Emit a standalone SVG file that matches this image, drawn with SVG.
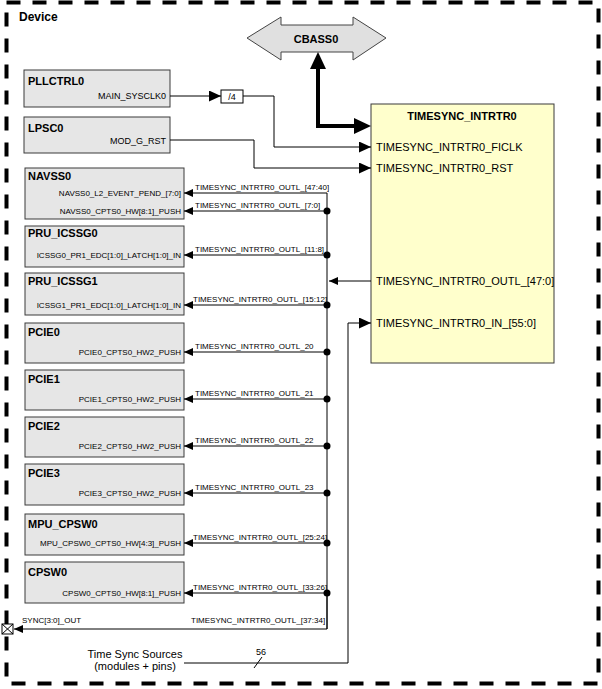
<svg xmlns="http://www.w3.org/2000/svg" width="602" height="689" viewBox="0 0 602 689">
<style>
.box{fill:#e6e6e6;stroke:#3a3a3a;stroke-width:1}
.ts{fill:#ffffcc;stroke:#3a3a3a;stroke-width:1}
.t{font-family:"Liberation Sans",Arial,sans-serif;font-weight:bold;font-size:11px;fill:#000}
.p{font-family:"Liberation Sans",Arial,sans-serif;font-size:8px;fill:#000}
.pm{font-family:"Liberation Sans",Arial,sans-serif;font-size:9px;fill:#000}
.pl{font-family:"Liberation Sans",Arial,sans-serif;font-size:11px;fill:#000}
.w{fill:none;stroke:#000;stroke-width:1}
.wa{fill:none;stroke:#000;stroke-width:1;marker-end:url(#a)}
.wb{fill:none;stroke:#000;stroke-width:1;marker-end:url(#b)}
</style>
<defs>
<marker id="a" markerUnits="userSpaceOnUse" markerWidth="10" markerHeight="9" refX="9" refY="4" orient="auto"><path d="M0,0 L9,4 L0,8 z" fill="#000"/></marker>
<marker id="b" markerUnits="userSpaceOnUse" markerWidth="13" markerHeight="12" refX="12" refY="5.5" orient="auto"><path d="M0,0 L12,5.5 L0,11 z" fill="#000"/></marker>
<marker id="at" markerUnits="userSpaceOnUse" markerWidth="18" markerHeight="17" refX="0" refY="8" orient="auto-start-reverse"><path d="M0,0 L17,8 L0,16 z" fill="#000"/></marker>
</defs>

<rect x="6.5" y="2.5" width="592" height="681" fill="none" stroke="#000" stroke-width="4" stroke-dasharray="14 12"/>
<text class="t" x="19" y="21" style="font-size:12px">Device</text>

<g id="cbass0">
<polygon points="247,38 281,17 281,25 353,25 353,17 386,38 353,60 353,52 281,52 281,60" fill="#e0e0e0" stroke="#444" stroke-width="1"/>
<text class="t" x="316" y="43" text-anchor="middle">CBASS0</text>
</g>

<g id="timesync">
<rect class="ts" x="371" y="104" width="183" height="259"/>
<text class="t" x="462" y="120" text-anchor="middle">TIMESYNC_INTRTR0</text>
<text class="pl" x="376" y="151">TIMESYNC_INTRTR0_FICLK</text>
<text class="pl" x="376" y="172">TIMESYNC_INTRTR0_RST</text>
<text class="pl" x="376" y="285">TIMESYNC_INTRTR0_OUTL_[47:0]</text>
<text class="pl" x="376" y="327">TIMESYNC_INTRTR0_IN_[55:0]</text>
</g>

<g id="pllctrl0">
<rect class="box" x="24" y="70" width="146" height="37"/>
<text class="t" x="28" y="85">PLLCTRL0</text>
<text class="pm" x="166" y="99" text-anchor="end">MAIN_SYSCLK0</text>
</g>
<g id="div4">
<rect x="221" y="90" width="22" height="13" fill="#fff" stroke="#000"/>
<text class="pm" x="232" y="100" text-anchor="middle">/4</text>
</g>
<g id="lpsc0">
<rect class="box" x="24" y="117" width="146" height="36"/>
<text class="t" x="28" y="132">LPSC0</text>
<text class="pm" x="166" y="144" text-anchor="end">MOD_G_RST</text>
</g>

<g id="navss0">
<rect class="box" x="25" y="168" width="159" height="51"/>
<text class="t" x="28" y="180">NAVSS0</text>
<text class="p" x="181" y="196" text-anchor="end">NAVSS0_L2_EVENT_PEND_[7:0]</text>
<text class="p" x="181" y="214" text-anchor="end">NAVSS0_CPTS0_HW[8:1]_PUSH</text>
</g>
<g id="pru_icssg0">
<rect class="box" x="25" y="226" width="159" height="41"/>
<text class="t" x="28" y="237">PRU_ICSSG0</text>
<text class="p" x="181" y="258" text-anchor="end">ICSSG0_PR1_EDC[1:0]_LATCH[1:0]_IN</text>
</g>
<g id="pru_icssg1">
<rect class="box" x="25" y="273" width="159" height="42"/>
<text class="t" x="28" y="285">PRU_ICSSG1</text>
<text class="p" x="181" y="308" text-anchor="end">ICSSG1_PR1_EDC[1:0]_LATCH[1:0]_IN</text>
</g>
<g id="pcie0">
<rect class="box" x="25" y="323" width="159" height="40"/>
<text class="t" x="28" y="336">PCIE0</text>
<text class="p" x="181" y="355" text-anchor="end">PCIE0_CPTS0_HW2_PUSH</text>
</g>
<g id="pcie1">
<rect class="box" x="25" y="370" width="159" height="40"/>
<text class="t" x="28" y="383">PCIE1</text>
<text class="p" x="181" y="402" text-anchor="end">PCIE1_CPTS0_HW2_PUSH</text>
</g>
<g id="pcie2">
<rect class="box" x="25" y="417" width="159" height="40"/>
<text class="t" x="28" y="430">PCIE2</text>
<text class="p" x="181" y="449" text-anchor="end">PCIE2_CPTS0_HW2_PUSH</text>
</g>
<g id="pcie3">
<rect class="box" x="25" y="464" width="159" height="41"/>
<text class="t" x="28" y="477">PCIE3</text>
<text class="p" x="181" y="496" text-anchor="end">PCIE3_CPTS0_HW2_PUSH</text>
</g>
<g id="mpu_cpsw0">
<rect class="box" x="25" y="514" width="159" height="41"/>
<text class="t" x="28" y="528">MPU_CPSW0</text>
<text class="p" x="181" y="546" text-anchor="end">MPU_CPSW0_CPTS0_HW[4:3]_PUSH</text>
</g>
<g id="cpsw0">
<rect class="box" x="25" y="562" width="159" height="41"/>
<text class="t" x="28" y="576">CPSW0</text>
<text class="p" x="181" y="596" text-anchor="end">CPSW0_CPTS0_HW[8:1]_PUSH</text>
</g>

<g id="sync_pin">
<rect x="2" y="624" width="11" height="10" fill="#fff" stroke="#000"/>
<path d="M2,624 L13,634 M13,624 L2,634" stroke="#000" fill="none"/>
<text class="p" x="22" y="623">SYNC[3:0]_OUT</text>
</g>

<g id="time_sync_sources">
<text class="pl" x="135" y="658" text-anchor="middle">Time Sync Sources</text>
<text class="pl" x="135" y="670" text-anchor="middle">(modules + pins)</text>
</g>

<g id="connectors">
<path d="M318,69 V126 H354" fill="none" stroke="#000" stroke-width="4" marker-start="url(#at)" marker-end="url(#at)"/>
<path class="wb" d="M170,96 H221"/>
<path class="wb" d="M243,96 H274 V147 H371"/>
<path class="wb" d="M170,140 H254 V168 H371"/>
<path class="wa" d="M371,281 H329"/>
<path class="wb" d="M184,663 H348 V323 H371"/>
<path d="M254,668 L262,657" stroke="#000" fill="none"/>
<text class="p" x="256" y="655" style="font-size:9px">56</text>

<path class="wa" d="M327,629 V193 H184"/>
<path class="wa" d="M327,211 H184"/>
<path class="wa" d="M327,255 H184"/>
<path class="wa" d="M327,305 H184"/>
<path class="wa" d="M327,352 H184"/>
<path class="wa" d="M327,399 H184"/>
<path class="wa" d="M327,446 H184"/>
<path class="wa" d="M327,493 H184"/>
<path class="wa" d="M327,543 H184"/>
<path class="wa" d="M327,593 H184"/>
<path class="wa" d="M327,593 V629 H14"/>
<g fill="#000">
<circle cx="327" cy="211" r="3.5"/><circle cx="327" cy="255" r="3.5"/><circle cx="327" cy="305" r="3.5"/>
<circle cx="327" cy="352" r="3.5"/><circle cx="327" cy="399" r="3.5"/><circle cx="327" cy="446" r="3.5"/>
<circle cx="327" cy="493" r="3.5"/><circle cx="327" cy="543" r="3.5"/><circle cx="327" cy="593" r="3.5"/>
</g>
<text class="p" x="195" y="190">TIMESYNC_INTRTR0_OUTL_[47:40]</text>
<text class="p" x="195" y="208">TIMESYNC_INTRTR0_OUTL_[7:0]</text>
<text class="p" x="195" y="252">TIMESYNC_INTRTR0_OUTL_[11:8]</text>
<text class="p" x="193" y="302">TIMESYNC_INTRTR0_OUTL_[15:12]</text>
<text class="p" x="195" y="349">TIMESYNC_INTRTR0_OUTL_20</text>
<text class="p" x="195" y="396">TIMESYNC_INTRTR0_OUTL_21</text>
<text class="p" x="195" y="443">TIMESYNC_INTRTR0_OUTL_22</text>
<text class="p" x="195" y="490">TIMESYNC_INTRTR0_OUTL_23</text>
<text class="p" x="193" y="540">TIMESYNC_INTRTR0_OUTL_[25:24]</text>
<text class="p" x="193" y="590">TIMESYNC_INTRTR0_OUTL_[33:26]</text>
<text class="p" x="191" y="623">TIMESYNC_INTRTR0_OUTL_[37:34]</text>
</g>
</svg>
